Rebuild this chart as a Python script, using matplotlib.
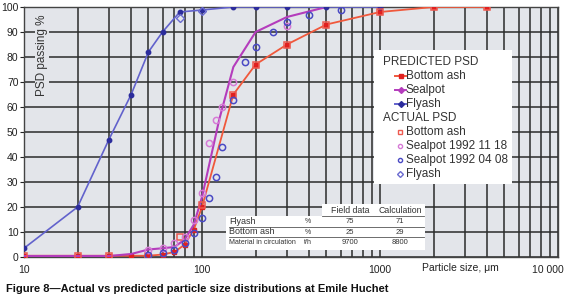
import matplotlib
matplotlib.use("Agg")
import matplotlib.pyplot as plt
import matplotlib.transforms as mtransforms
from matplotlib.patches import Rectangle
from matplotlib.lines import Line2D
from matplotlib.ticker import FixedLocator, NullFormatter, LogLocator

plt.rcParams['font.family'] = ['Liberation Sans', 'DejaVu Sans']

# ---- data ----
pred_flyash_x = [10, 20, 30, 40, 50, 60, 75, 100, 150, 200, 300, 500, 1000]
pred_flyash_y = [3.5, 20, 47, 65, 82, 90, 98, 98.8, 100, 100, 100, 100, 100]

pred_sealpot_x = [10, 20, 30, 40, 50, 60, 70, 80, 90, 100, 125, 150, 200, 300, 500]
pred_sealpot_y = [0.4, 0.4, 0.4, 1.2, 3, 3.5, 4, 7, 13, 24, 55, 76, 90, 96, 100]

pred_bottom_x = [10, 20, 30, 40, 50, 60, 70, 80, 90, 100, 150, 200, 300, 500, 1000, 2000, 4000]
pred_bottom_y = [0.5, 0.5, 0.5, 0.5, 0.5, 1, 2, 5, 11, 20, 65, 77, 85, 93, 98, 100, 100]

act_bottom_x = [10, 20, 30, 50, 75, 100, 150, 200, 300, 500, 1000, 2000, 4000]
act_bottom_y = [0.5, 0.5, 0.5, 0.5, 8, 21, 65, 77, 85, 93, 98, 100, 100]

act_seal1_x = [50, 60, 70, 80, 90, 100, 110, 120, 130, 150, 300]
act_seal1_y = [3, 3.5, 5.6, 8, 15, 25.6, 45.6, 55, 60, 70, 92.5]

act_seal2_x = [50, 60, 70, 80, 90, 100, 110, 120, 130, 150, 175, 200, 250, 300, 400, 600]
act_seal2_y = [0.8, 1.6, 3, 5.6, 9.6, 15.6, 23.6, 32, 44, 63, 78, 84, 90, 94, 97, 99]

act_flyash_x = [75, 100]
act_flyash_y = [95.5, 98.5]

x_tick_vals = [10, 100, 1000, 10000]
x_tick_labels = ["10", "100", "1000", "10 000"]
y_tick_vals = list(range(0, 101, 10))

table_rows = ["Flyash", "Bottom ash", "Material in circulation"]
table_units = ["%", "%", "t/h"]
table_field = ["75", "25", "9700"]
table_calc = ["71", "29", "8800"]

# ---- figure ----
fig = plt.figure(figsize=(5.72, 3.0), dpi=100)
L, R, T, B = 24, 558, 7, 257
W, H = 572, 300
ax = fig.add_axes([L / W, (H - B) / H, (R - L) / W, (B - T) / H])
ax.set_facecolor("#e3e5ea")
ax.set_xscale("log")
ax.set_xlim(10, 10000)
ax.set_ylim(0, 100)

ax.xaxis.set_major_locator(FixedLocator(x_tick_vals))
ax.set_xticklabels(x_tick_labels)
ax.xaxis.set_minor_locator(LogLocator(base=10, subs=range(2, 10)))
ax.xaxis.set_minor_formatter(NullFormatter())
ax.set_yticks(y_tick_vals)
ax.grid(True, which="both", axis="x", color="#2b2b2b", lw=1.1)
ax.grid(True, which="major", axis="y", color="#2b2b2b", lw=1.1)
ax.set_axisbelow(True)
ax.tick_params(axis="x", which="both", length=0, labelsize=7.5, colors="#222222", pad=6)
ax.tick_params(axis="y", which="major", length=3, labelsize=7.5, colors="#222222", pad=1)
for s in ax.spines.values():
    s.set_color("#444444")
    s.set_linewidth(1.0)

# shift the last x tick label so it stays inside the figure
lbls = ax.get_xticklabels()
last = lbls[-1]
last.set_horizontalalignment("right")
last.set_transform(last.get_transform() +
                   mtransforms.ScaledTranslation(6 / 100, 0, fig.dpi_scale_trans))

blue_line = "#6262cc"
blue_mk = "#2c2c9c"
mag = "#b43cbc"
red = "#f0583c"

ax.plot(pred_bottom_x, pred_bottom_y, color=red, lw=1.3, marker="s", ms=2.2,
        mfc="#e02020", mec="#e02020", zorder=3)
ax.plot(pred_sealpot_x, pred_sealpot_y, color=mag, lw=1.5, zorder=4)
ax.plot(pred_flyash_x, pred_flyash_y, color=blue_line, lw=1.2, marker="o", ms=3.2,
        mfc=blue_mk, mec=blue_mk, zorder=4)

ax.plot(act_bottom_x, act_bottom_y, ls="none", marker="s", ms=4.5, mfc="none",
        mec="#ee5a50", mew=1.1, zorder=5)
ax.plot(act_seal1_x, act_seal1_y, ls="none", marker="o", ms=4.5, mfc="none",
        mec="#d67ad6", mew=1.1, zorder=5)
ax.plot(act_seal2_x, act_seal2_y, ls="none", marker="o", ms=4.5, mfc="none",
        mec="#4a4ac4", mew=1.1, zorder=5)
ax.plot(act_flyash_x, act_flyash_y, ls="none", marker="D", ms=3.6, mfc="none",
        mec="#6a6ad0", mew=1.0, zorder=5)

def fx(px):
    return (px - L) / (R - L)

def fy(py):
    return (B - py) / (B - T)

tr = ax.transAxes
ax.text(fx(42), fy(55), "PSD passing %", rotation=90, ha="center", va="center",
        fontsize=8.5, color="#333333", transform=tr, zorder=6,
        bbox=dict(facecolor="#e3e5ea", edgecolor="none", pad=0.5))

ax.text(fx(460), fy(268), "Particle size, \u03bcm", ha="center", va="center",
        fontsize=7.5, color="#222222", transform=tr, clip_on=False)

# ---- legend (manual) ----
ax.add_patch(Rectangle((fx(374), fy(184)), fx(512) - fx(374), fy(50) - fy(184),
                       transform=tr, facecolor="white", edgecolor="none", zorder=7))
lfs = 8.5
ax.text(fx(383), fy(62), "PREDICTED PSD", fontsize=lfs, color="#333333",
        va="center", ha="left", transform=tr, zorder=8)
pred_items = [("Bottom ash", red, "s", "#e02020"), ("Sealpot", mag, "D", mag),
              ("Flyash", blue_line, "D", blue_mk)]
for i, (lab, c, m, mc) in enumerate(pred_items):
    yy = fy(76 + 14 * i)
    ax.add_line(Line2D([fx(395), fx(406)], [yy, yy], color=c, lw=1.4,
                       transform=tr, zorder=8))
    ax.add_line(Line2D([fx(400.5)], [yy], marker=m, ms=3, mfc=mc, mec=mc,
                       transform=tr, zorder=9))
    ax.text(fx(406), yy, lab, fontsize=lfs, color="#333333", va="center",
            ha="left", transform=tr, zorder=8)
ax.text(fx(383), fy(118), "ACTUAL PSD", fontsize=lfs, color="#333333",
        va="center", ha="left", transform=tr, zorder=8)
act_items = [("Bottom ash", "s", "#ee5a50"), ("Sealpot 1992 11 18", "o", "#d67ad6"),
             ("Sealpot 1992 04 08", "o", "#4a4ac4"), ("Flyash", "D", "#6a6ad0")]
for i, (lab, m, c) in enumerate(act_items):
    yy = fy(132 + 14 * i)
    ax.add_line(Line2D([fx(400)], [yy], marker=m, ms=3, mfc="none", mec=c, mew=1,
                       transform=tr, zorder=9))
    ax.text(fx(406), yy, lab, fontsize=lfs, color="#333333", va="center",
            ha="left", transform=tr, zorder=8)

# ---- table ----
ax.add_patch(Rectangle((fx(322), fy(216)), fx(425) - fx(322), fy(204) - fy(216),
                       transform=tr, facecolor="white", edgecolor="none", zorder=7))
ax.add_patch(Rectangle((fx(226), fy(250)), fx(425) - fx(226), fy(216) - fy(250),
                       transform=tr, facecolor="white", edgecolor="none", zorder=7))
tc = "#333333"
ax.text(fx(350), fy(210.5), "Field data", fontsize=6.3, color=tc, ha="center",
        va="center", transform=tr, zorder=8)
ax.text(fx(400), fy(210.5), "Calculation", fontsize=6.3, color=tc, ha="center",
        va="center", transform=tr, zorder=8)
ax.add_line(Line2D([fx(322), fx(424)], [fy(216), fy(216)], color="#555555", lw=0.6,
                   transform=tr, zorder=8))
row_y = [221.5, 232, 243]
for i in range(3):
    fs = 6.5 if i < 2 else 5.0
    ax.text(fx(229), fy(row_y[i]), table_rows[i], fontsize=fs, color=tc, ha="left",
            va="center", transform=tr, zorder=8)
    ax.text(fx(308), fy(row_y[i]), table_units[i], fontsize=5,
            color=tc, ha="center", va="center", transform=tr, zorder=8)
    ax.text(fx(350), fy(row_y[i]), table_field[i], fontsize=5.5, color=tc,
            ha="center", va="center", transform=tr, zorder=8)
    ax.text(fx(400), fy(row_y[i]), table_calc[i], fontsize=5.5, color=tc,
            ha="center", va="center", transform=tr, zorder=8)
for yl in (227, 237):
    ax.add_line(Line2D([fx(229), fx(424)], [fy(yl), fy(yl)], color="#555555",
                       lw=0.6, transform=tr, zorder=8))

# caption
fig.text(6 / W, 1 - 289 / H,
         "Figure 8\u2014Actual vs predicted particle size distributions at Emile Huchet",
         fontsize=8, fontweight="bold", color="#111111", ha="left", va="center")

fig.savefig("out.png", dpi=100)
